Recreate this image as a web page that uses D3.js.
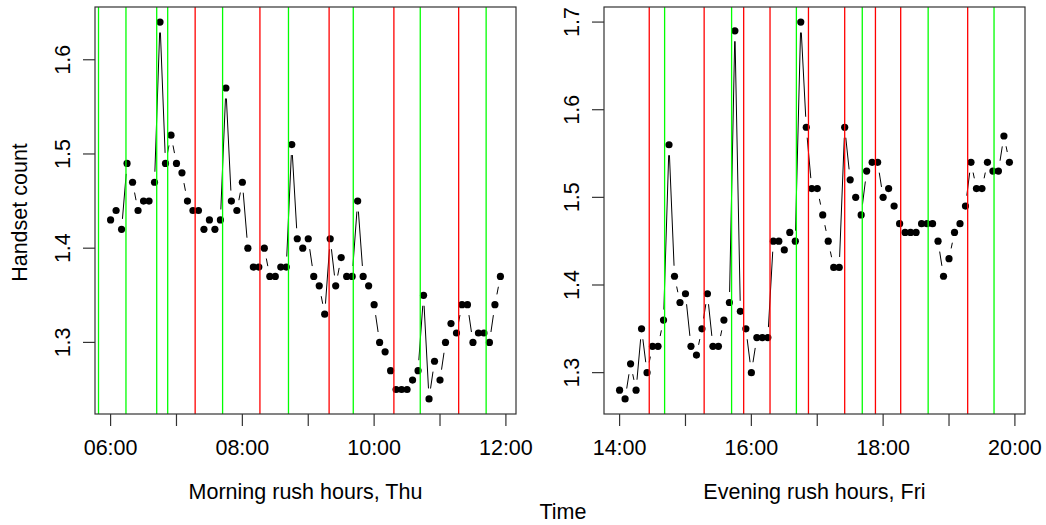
<!DOCTYPE html>
<html>
<head>
<meta charset="utf-8">
<script src="https://cdn.jsdelivr.net/npm/d3@7"></script>
<style>
  html, body { margin: 0; padding: 0; background: #fff; }
  svg { display: block; }
  text { font-family: "Liberation Sans", Arial, sans-serif; fill: #000; }
</style>
</head>
<body>
<svg id="chart" width="1046" height="525"></svg>
<script>
// ---------------- DATA ----------------
const stepMinutes = 5;

const morningStart = "06:00";
const morningValues = [
  1.43, 1.44, 1.42, 1.49, 1.47, 1.44, 1.45, 1.45, 1.47, 1.64, 1.49, 1.52,
  1.49, 1.48, 1.45, 1.44, 1.44, 1.42, 1.43, 1.42, 1.43, 1.57, 1.45, 1.44,
  1.47, 1.40, 1.38, 1.38, 1.40, 1.37, 1.37, 1.38, 1.38, 1.51, 1.41, 1.40,
  1.41, 1.37, 1.36, 1.33, 1.41, 1.36, 1.39, 1.37, 1.37, 1.45, 1.37, 1.36,
  1.34, 1.30, 1.29, 1.27, 1.25, 1.25, 1.25, 1.26, 1.27, 1.35, 1.24, 1.28,
  1.26, 1.30, 1.32, 1.31, 1.34, 1.34, 1.30, 1.31, 1.31, 1.30, 1.34, 1.37
];
const morningGreen = ["05:49", "06:14", "06:42", "06:52", "07:42", "08:42", "09:41", "10:42", "11:42"];
const morningRed   = ["07:17", "08:16", "09:19", "10:18", "11:17"];
const morningTicks = ["06:00", "07:00", "08:00", "09:00", "10:00", "11:00", "12:00"];
const morningTickLabels = ["06:00", "", "08:00", "", "10:00", "", "12:00"];
const morningYTicks = [1.3, 1.4, 1.5, 1.6];

const eveningStart = "14:00";
const eveningValues = [
  1.28, 1.27, 1.31, 1.28, 1.35, 1.30, 1.33, 1.33, 1.36, 1.56, 1.41, 1.38,
  1.39, 1.33, 1.32, 1.35, 1.39, 1.33, 1.33, 1.36, 1.38, 1.69, 1.37, 1.35,
  1.30, 1.34, 1.34, 1.34, 1.45, 1.45, 1.44, 1.46, 1.45, 1.70, 1.58, 1.51,
  1.51, 1.48, 1.45, 1.42, 1.42, 1.58, 1.52, 1.50, 1.48, 1.53, 1.54, 1.54,
  1.50, 1.51, 1.49, 1.47, 1.46, 1.46, 1.46, 1.47, 1.47, 1.47, 1.45, 1.41,
  1.43, 1.46, 1.47, 1.49, 1.54, 1.51, 1.51, 1.54, 1.53, 1.53, 1.57, 1.54
];
const eveningGreen = ["14:41", "15:42", "16:41", "17:41", "18:41", "19:41"];
const eveningRed   = ["14:27", "15:17", "15:53", "16:17", "16:52", "17:25", "17:53", "18:16", "19:17"];
const eveningTicks = ["14:00", "15:00", "16:00", "17:00", "18:00", "19:00", "20:00"];
const eveningTickLabels = ["14:00", "", "16:00", "", "18:00", "", "20:00"];
const eveningYTicks = [1.3, 1.4, 1.5, 1.6, 1.7];

const panelTitles = ["Morning rush hours, Thu", "Evening rush hours, Fri"];
const yTitle = "Handset count";
const xTitle = "Time";

// ---------------- HELPERS ----------------
const toMin = s => { const [h, m] = s.split(":").map(Number); return h * 60 + m; };
const padExtent = ext => { const d = (ext[1] - ext[0]) * 0.04; return [ext[0] - d, ext[1] + d]; };

const svg = d3.select("#chart");
const FONT = 21.5;
const GREEN = "#00ff00", RED = "#ff0000";

function panel(opts) {
  const { left, right, top, bottom, start, values, green, red, ticks, tickLabels, yTicks, title, showYTitle } = opts;
  const t0 = toMin(start);
  const pts = values.map((v, i) => ({ t: t0 + i * stepMinutes, v }));

  const x = d3.scaleLinear().domain(padExtent(d3.extent(pts, d => d.t))).range([left, right]);
  const y = d3.scaleLinear().domain(padExtent(d3.extent(pts, d => d.v))).range([bottom, top]);

  const g = svg.append("g");

  // line segments with gaps (R type = "b")
  const gap = 10.5;
  const segs = [];
  for (let i = 0; i < pts.length - 1; i++) {
    const x1 = x(pts[i].t), y1 = y(pts[i].v), x2 = x(pts[i + 1].t), y2 = y(pts[i + 1].v);
    const dx = x2 - x1, dy = y2 - y1, dist = Math.hypot(dx, dy);
    if (dist > 2 * gap) {
      const ux = dx / dist, uy = dy / dist;
      segs.push([x1 + ux * gap, y1 + uy * gap, x2 - ux * gap, y2 - uy * gap]);
    }
  }
  g.append("g").selectAll("line").data(segs).join("line")
    .attr("x1", d => d[0]).attr("y1", d => d[1]).attr("x2", d => d[2]).attr("y2", d => d[3])
    .attr("stroke", "#000").attr("stroke-width", 1);

  // points
  g.append("g").selectAll("circle").data(pts).join("circle")
    .attr("cx", d => x(d.t)).attr("cy", d => y(d.v)).attr("r", 3.6).attr("fill", "#000");

  // vertical event lines (drawn on top)
  const vl = green.map(s => ({ t: toMin(s), c: GREEN })).concat(red.map(s => ({ t: toMin(s), c: RED })));
  g.append("g").selectAll("line").data(vl).join("line")
    .attr("x1", d => x(d.t)).attr("x2", d => x(d.t))
    .attr("y1", top).attr("y2", bottom)
    .attr("stroke", d => d.c).attr("stroke-width", 1.3);

  // frame
  g.append("rect").attr("x", left).attr("y", top).attr("width", right - left).attr("height", bottom - top)
    .attr("fill", "none").attr("stroke", "#333").attr("stroke-width", 1.2);

  // x axis ticks
  const tickLen = 12;
  const xt = ticks.map((s, i) => ({ t: toMin(s), label: tickLabels[i] }));
  g.append("g").selectAll("line").data(xt).join("line")
    .attr("x1", d => x(d.t)).attr("x2", d => x(d.t))
    .attr("y1", bottom).attr("y2", bottom + tickLen)
    .attr("stroke", "#333").attr("stroke-width", 1.2);
  g.append("g").selectAll("text").data(xt.filter(d => d.label)).join("text")
    .attr("x", d => x(d.t)).attr("y", 455)
    .attr("text-anchor", "middle").attr("font-size", FONT)
    .text(d => d.label);

  // y axis ticks
  g.append("g").selectAll("line").data(yTicks).join("line")
    .attr("x1", left - tickLen).attr("x2", left)
    .attr("y1", d => y(d)).attr("y2", d => y(d))
    .attr("stroke", "#333").attr("stroke-width", 1.2);
  g.append("g").selectAll("text").data(yTicks).join("text")
    .attr("transform", d => `translate(${left - 25.5},${y(d)}) rotate(-90)`)
    .attr("text-anchor", "middle").attr("font-size", FONT)
    .text(d => d3.format(".1f")(d));

  // panel x label
  g.append("text").attr("x", (left + right) / 2).attr("y", 499)
    .attr("text-anchor", "middle").attr("font-size", FONT).text(title);

  if (showYTitle) {
    g.append("text").attr("transform", `translate(27,${(top + bottom) / 2 + 2}) rotate(-90)`)
      .attr("text-anchor", "middle").attr("font-size", FONT).text(yTitle);
  }
}

panel({ left: 95, right: 516, top: 7, bottom: 414, start: morningStart, values: morningValues,
  green: morningGreen, red: morningRed, ticks: morningTicks, tickLabels: morningTickLabels,
  yTicks: morningYTicks, title: panelTitles[0], showYTitle: true });

panel({ left: 604, right: 1025, top: 7, bottom: 414, start: eveningStart, values: eveningValues,
  green: eveningGreen, red: eveningRed, ticks: eveningTicks, tickLabels: eveningTickLabels,
  yTicks: eveningYTicks, title: panelTitles[1], showYTitle: false });

svg.append("text").attr("x", 563).attr("y", 519).attr("text-anchor", "middle")
  .attr("font-size", FONT).text(xTitle);
</script>
</body>
</html>
